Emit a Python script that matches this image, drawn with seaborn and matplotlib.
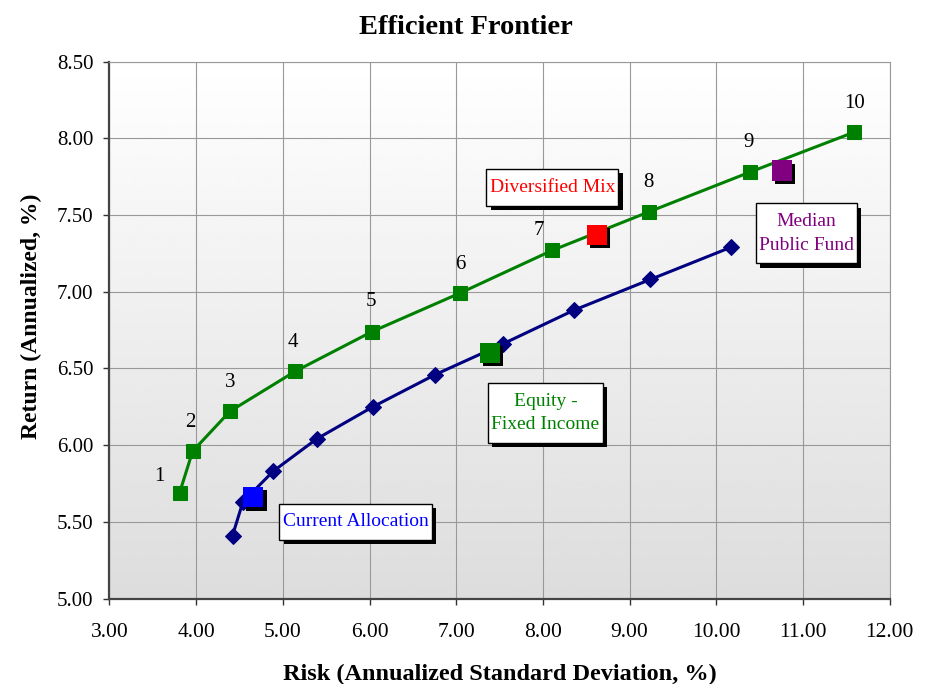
import numpy as np
import pandas as pd
import seaborn as sns
import matplotlib.pyplot as plt
import matplotlib.patheffects as pe
from matplotlib.path import Path

# efficient frontier (green, numbered portfolios 1-10)
frontier_risk = [3.81, 3.96, 4.39, 5.14, 6.03, 7.04, 8.11, 9.22, 10.39, 11.59]
frontier_ret = [5.69, 5.96, 6.22, 6.48, 6.74, 6.99, 7.27, 7.52, 7.78, 8.04]
frontier_labels = ['1', '2', '3', '4', '5', '6', '7', '8', '9', '10']

# equity / fixed income frontier (navy diamonds)
ef_risk = [4.42, 4.54, 4.89, 5.39, 6.04, 6.76, 7.54, 8.36, 9.24, 10.17]
ef_ret = [5.41, 5.63, 5.83, 6.04, 6.25, 6.46, 6.66, 6.88, 7.08, 7.29]

# single portfolios
port_names = ['Current Allocation', 'Equity -\nFixed Income', 'Diversified Mix', 'Median\nPublic Fund']
port_risk = [4.66, 7.39, 8.62, 10.76]
port_ret = [5.66, 6.60, 7.37, 7.79]
port_colors = ['#0000FF', '#008000', '#FF0000', '#800080']

# where the label boxes sit (data coords) and number label offsets (px)
box_pos = [(5.84, 5.50), (8.03, 6.21), (8.11, 7.68), (11.04, 7.38)]
num_offsets = [(-20, 16), (-2, 29), (0, 29), (-2, 29), (-1, 30), (1, 29), (-14, 20), (0, 29), (-2, 30), (0, 29)]

sns.set_style('white')
plt.rcParams['font.family'] = ['Liberation Serif', 'DejaVu Serif']
plt.rcParams['text.color'] = 'black'
plt.rcParams['axes.labelcolor'] = 'black'
plt.rcParams['xtick.color'] = 'black'
plt.rcParams['ytick.color'] = 'black'

fig, ax = plt.subplots(figsize=(9.32, 6.84), dpi=100)
fig.subplots_adjust(left=109.4 / 932, right=889.7 / 932, top=1 - 61.6 / 684, bottom=1 - 598.5 / 684)

# gradient background, white at top to light grey at bottom
grad = np.linspace(1.0, 0.865, 256).reshape(-1, 1)
ax.imshow(grad, cmap='gray', vmin=0, vmax=1, extent=[3, 12, 5, 8.5],
          aspect='auto', origin='upper', zorder=0)

sns.lineplot(x=frontier_risk, y=frontier_ret, sort=False, estimator=None, ax=ax,
             color='#008000', lw=2.2, marker='s', markersize=10.5,
             markeredgecolor='#008000', zorder=3)
sns.lineplot(x=ef_risk, y=ef_ret, sort=False, estimator=None, ax=ax,
             color='#000080', lw=2.2, marker='D', markersize=8,
             markeredgecolor='#000080', zorder=3)

shadow = [pe.SimplePatchShadow(offset=(2.3, -2.3), shadow_rgbFace='black', alpha=1), pe.Normal()]
df = pd.DataFrame({'risk': port_risk, 'ret': port_ret, 'name': port_names})
sns.scatterplot(data=df, x='risk', y='ret', hue='name', palette=port_colors,
                marker='s', s=210, linewidth=0, legend=False, ax=ax,
                zorder=5, path_effects=shadow)

for lbl, x, y, (dx, dy) in zip(frontier_labels, frontier_risk, frontier_ret, num_offsets):
    ax.annotate(lbl, (x, y), xytext=(dx * 0.72, dy * 0.72), textcoords='offset points',
                ha='center', va='center', fontsize=15, color='black', zorder=6)


def label_box(x0, y0, width, height, mutation_size):
    px = 0.17 * mutation_size
    py = 0.5 * mutation_size
    x0, y0 = x0 - px, y0 - py
    x1, y1 = x0 + width + 2 * px, y0 + height + 2 * py
    return Path([(x0, y0), (x1, y0), (x1, y1), (x0, y1), (x0, y0)],
                [Path.MOVETO, Path.LINETO, Path.LINETO, Path.LINETO, Path.CLOSEPOLY])


for name, (bx, by), c in zip(port_names, box_pos, port_colors):
    t = ax.text(bx, by, name, color=c, ha='center', va='center', fontsize=14,
                linespacing=1.5, zorder=7,
                bbox=dict(boxstyle=label_box, fc='white', ec='black', lw=1))
    t.get_bbox_patch().set_path_effects(
        [pe.SimplePatchShadow(offset=(3, -3), shadow_rgbFace='black', alpha=1), pe.Normal()])

ax.set_xlim(3, 12)
ax.set_ylim(5, 8.5)
ax.set_xticks(np.arange(3, 12.01, 1))
ax.set_yticks(np.arange(5, 8.51, 0.5))
ax.set_xticklabels([f'{v:.2f}' for v in np.arange(3, 12.01, 1)])
ax.set_yticklabels([f'{v:.2f}' for v in np.arange(5, 8.51, 0.5)])
ax.grid(True, color='#999999', lw=0.8, zorder=1)
ax.set_axisbelow(True)
ax.tick_params(axis='both', direction='out', length=4.5, width=1, color='#333333',
               bottom=True, left=True)
ax.tick_params(axis='x', labelsize=15.5, pad=13)
ax.tick_params(axis='y', labelsize=15, pad=7)

for side in ['top', 'right']:
    ax.spines[side].set_color('#999999')
    ax.spines[side].set_linewidth(0.8)
for side in ['left', 'bottom']:
    ax.spines[side].set_color('#444444')
    ax.spines[side].set_linewidth(1.6)

ax.set_title('Efficient Frontier', fontsize=20.5, fontweight='bold', pad=20, x=0.457)
ax.set_xlabel('Risk (Annualized Standard Deviation, %)', fontsize=17.5, fontweight='bold')
ax.set_ylabel('Return (Annualized, %)', fontsize=17, fontweight='bold')
ax.xaxis.set_label_coords(0.5, -0.121)
ax.yaxis.set_label_coords(-0.086, 0.526)

plt.savefig('out.png', dpi=100)
